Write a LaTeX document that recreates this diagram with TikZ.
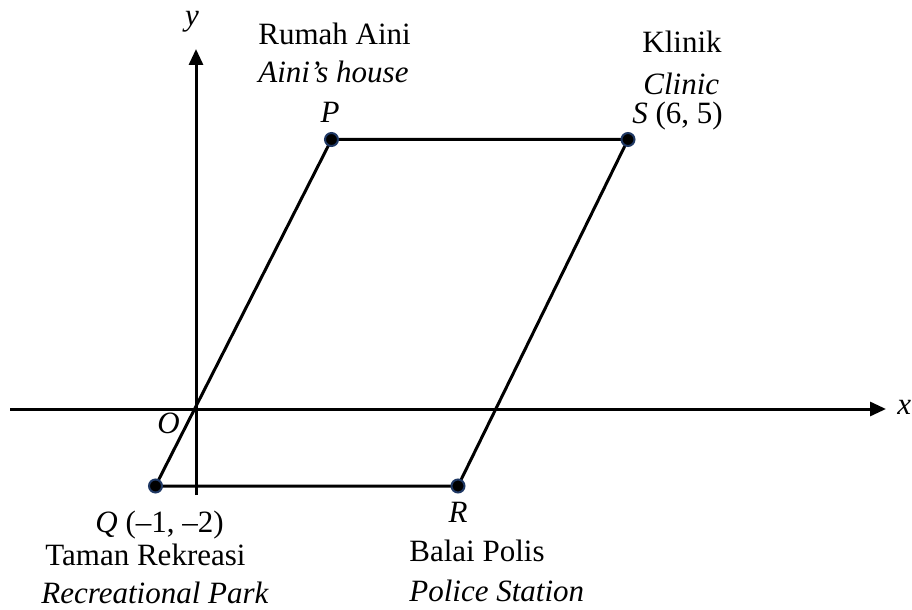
\documentclass[tikz,border=0pt]{standalone}
\usepackage{fontspec}
\setmainfont{Liberation Serif}
\usetikzlibrary{arrows.meta, positioning, calc}
\definecolor{dotblue}{RGB}{31,56,100}

\begin{document}
\begin{tikzpicture}[x=0.5pt, y=-0.5pt,
    >={Triangle[length=8pt, width=7pt]},
    every node/.style={font=\fontsize{15.5}{18}\selectfont, inner sep=0pt},
    axis/.style={line width=1.5pt, ->},
    edge/.style={line width=1.5pt},
    lbl/.style={anchor=base west},
    dot/.style={circle, fill=black, draw=dotblue, line width=1pt,
                minimum size=6.5pt}]

    \useasboundingbox (0,0) rectangle (912,610);

    % eixos
    \coordinate (O)  at (196, 409);
    \coordinate (xl) at (10, 409);
    \coordinate (xr) at (886, 409);
    \coordinate (yb) at (196, 495);
    \coordinate (yt) at (196, 49);

    \draw[axis] (xl) -- (xr);
    \draw[axis] (yb) -- (yt);

    \node[anchor=base west] (xlbl) at (897, 415) {\textit{x}};
    \node[anchor=base] (ylbl) at (192, 26) {\textit{y}};
    \node[anchor=base] (olbl) at (168.5, 433) {\textit{O}};

    % vertices
    \coordinate (P) at (331.5, 139.5);
    \coordinate (S) at (628, 139.5);
    \coordinate (R) at (458, 486);
    \coordinate (Q) at (155.5, 486);

    \draw[edge] (Q) -- (P) -- (S) -- (R) -- cycle;

    \node[dot] (dotP) at (P) {};
    \node[dot] (dotS) at (S) {};
    \node[dot] (dotR) at (R) {};
    \node[dot] (dotQ) at (Q) {};

    \node[lbl] (rumah) at (258, 45) {Rumah Aini};
    \node[lbl] (house) at (258, 83) {\textit{Aini’s house}};
    \node[anchor=base] (plbl) at (330, 123) {\textit{P}};

    \node[lbl] (klinik) at (642, 53) {Klinik};
    \node[lbl] (clinic) at (643, 95) {\textit{Clinic}};
    \node[lbl] (slbl) at (632, 124) {\textit{S} (6, 5)};

    \node[anchor=base] (rlbl) at (458, 522.5) {\textit{R}};
    \node[lbl] (balai) at (409, 561.5) {Balai Polis};
    \node[lbl] (police) at (409, 601) {\textit{Police Station}};

    \node[lbl] (qlbl) at (95, 532) {\textit{Q} (–1, –2)};
    \node[lbl] (taman) at (45, 565) {Taman Rekreasi};
    \node[lbl] (park) at (41, 603) {\textit{Recreational Park}};

\end{tikzpicture}
\end{document}
